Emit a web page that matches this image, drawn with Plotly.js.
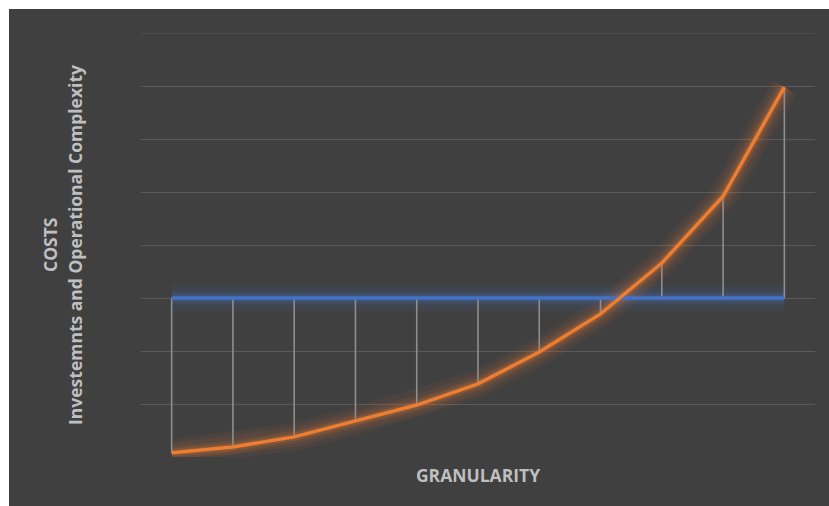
<!DOCTYPE html>
<html>
<head>
<meta charset="utf-8">
<script src="https://cdn.plot.ly/plotly-3.0.1.min.js"></script>
<style>
html,body{margin:0;padding:0;background:#ffffff;width:829px;height:506px;overflow:hidden;}
#chart{position:absolute;left:9px;top:9px;width:820px;height:497px;}
</style>
</head>
<body>
<div id="chart"></div>
<script>
const categories = [1,2,3,4,5,6,7,8,9,10,11];
const costValues = [0.08,0.19,0.38,0.68,0.98,1.38,1.98,2.70,3.66,4.92,6.98];
const baselineValues = [3,3,3,3,3,3,3,3,3,3,3];
const yGridTicks = [1,2,3,4,5,6,7,8];

const orange = '237,125,49';
const blue = '68,114,196';

// drop lines between the two series
const dropX = [], dropY = [];
categories.forEach((c,i)=>{ dropX.push(c,c,null); dropY.push(baselineValues[i],costValues[i],null); });

function glow(y, rgb){
  return [[28,0.06],[20,0.08],[13,0.12],[8,0.18]].map(([w,a])=>({
    x: categories, y: y, type:'scatter', mode:'lines',
    line:{color:`rgba(${rgb},${a})`, width:w}, hoverinfo:'skip', showlegend:false
  }));
}

const traces = [
  ...glow(baselineValues, blue),
  ...glow(costValues, orange),
  {x: dropX, y: dropY, type:'scatter', mode:'lines', line:{color:'#8e8e8e', width:1.6}, showlegend:false, connectgaps:false},
  {x: categories, y: baselineValues, type:'scatter', mode:'lines', line:{color:'#4472C4', width:3.5}, showlegend:false},
  {x: categories, y: costValues, type:'scatter', mode:'lines', line:{color:'#ED7D31', width:3.5}, showlegend:false}
];

const layout = {
  width: 820, height: 497,
  paper_bgcolor:'#404040', plot_bgcolor:'#404040',
  margin:{l:132, r:14, t:24, b:49},
  showlegend:false,
  font:{family:'"Open Sans", sans-serif', color:'#bfbfbf'},
  xaxis:{range:[0.5,11.5], showgrid:false, zeroline:false, showline:false, showticklabels:false, ticks:'',
    title:{text:'<b>GRANULARITY</b>', font:{size:17.5, color:'#bfbfbf'}, standoff:12}},
  yaxis:{range:[0,8], tickvals:yGridTicks, showgrid:true, gridcolor:'#5a5a5a', gridwidth:1, zeroline:false,
    showline:false, showticklabels:false, ticks:''},
  shapes:[
    {type:'line', xref:'paper', yref:'y', x0:0, x1:1, y0:yGridTicks[yGridTicks.length-1], y1:yGridTicks[yGridTicks.length-1],
     line:{color:'#5a5a5a', width:1}, layer:'below'}
  ],
  annotations:[
    {text:'<b>COSTS</b>', xref:'paper', yref:'paper', x:(41-132)/674, y:0.5, textangle:-90,
     xanchor:'center', yanchor:'middle', showarrow:false, font:{size:17.5, color:'#bfbfbf'}},
    {text:'<b>Investemnts and Operational Complexity</b>', xref:'paper', yref:'paper', x:(66-132)/674, y:0.5, textangle:-90,
     xanchor:'center', yanchor:'middle', showarrow:false, font:{size:17.5, color:'#bfbfbf'}}
  ]
};

Plotly.newPlot('chart', traces, layout, {displayModeBar:false, staticPlot:true});
</script>
</body>
</html>
